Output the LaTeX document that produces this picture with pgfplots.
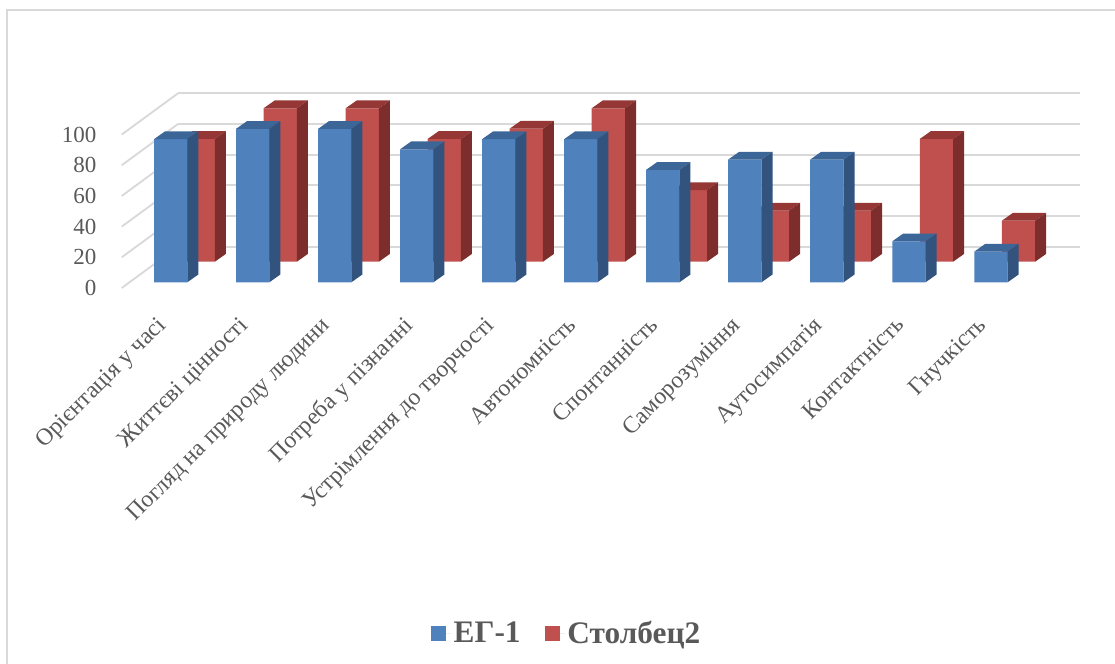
\documentclass[border=0pt]{standalone}
\usepackage{pgfplots}
\usepackage{pgfplotstable}
\pgfplotsset{compat=1.18}
\usepackage{fontspec}
\setmainfont{Liberation Serif}
\definecolor{blueF}{HTML}{4F81BD}
\definecolor{blueS}{HTML}{31537E}
\definecolor{blueT}{HTML}{3D6698}
\definecolor{redF}{HTML}{C0504D}
\definecolor{redS}{HTML}{7D2E2C}
\definecolor{redT}{HTML}{943735}
\definecolor{txt}{HTML}{595959}
\definecolor{gridc}{HTML}{D9D9D9}

\pgfplotstableread{
x blue red
0.5 93.3 80
1.5 100 100
2.5 100 100
3.5 86.7 80
4.5 93.3 86.7
5.5 93.3 100
6.5 73.3 46.7
7.5 80 33.3
8.5 80 33.3
9.5 26.7 80
10.5 20 26.7
}\datatable

\def\hw{12.49pt}\def\ddx{8.25pt}\def\ddy{5.85pt}
\newcommand\declarebox[3]{%
 \pgfdeclareplotmark{#1}{%
  \pgfmathsetlengthmacro\hh{\barval*1.1505pt}%
  \pgfsetfillcolor{#2}%
  \pgfpathmoveto{\pgfpoint{-\hw}{0pt}}%
  \pgfpathlineto{\pgfpoint{\hw}{0pt}}%
  \pgfpathlineto{\pgfpoint{\hw+\ddx}{\ddy}}%
  \pgfpathlineto{\pgfpoint{-\hw+\ddx}{\ddy}}%
  \pgfpathclose\pgfusepath{fill}%
  \pgfsetfillcolor{#3}%
  \pgfpathmoveto{\pgfpoint{\hw}{0pt}}%
  \pgfpathlineto{\pgfpoint{\hw+\ddx}{\ddy}}%
  \pgfpathlineto{\pgfpoint{\hw+\ddx}{\ddy-\hh}}%
  \pgfpathlineto{\pgfpoint{\hw}{-\hh}}%
  \pgfpathclose\pgfusepath{fill}%
 }}
\declarebox{boxblue}{blueT}{blueS}
\declarebox{boxred}{redT}{redS}

\pgfplotsset{rowaxis/.style={scale only axis, width=676.725pt, height=115.05pt,
  xmin=0, xmax=11, ymin=0, ymax=100, clip=false, anchor=south west,
  axis line style={draw=none}, major tick length=0pt}}

\begin{document}
\begin{tikzpicture}
\path[use as bounding box] (0,0) rectangle (836.25pt,498pt);
\draw[gridc, line width=1.2pt] (5.25pt,0pt) -- (5.25pt,490.5pt) -- (836.25pt,490.5pt);
\foreach \k in {0,...,5}{
 \draw[gridc, line width=1.4pt] ({121.7*0.75pt},{(664-288+30.68*\k)*0.75pt}) -- ({178*0.75pt},{(664-246.7+30.68*\k)*0.75pt});
}
% back wall
\begin{axis}[rowaxis, at={(133.5pt,312.975pt)}, width=676.5pt, xtick=\empty,
  ytick={0,20,...,100}, yticklabels={,,,,,}, yticklabel style={opacity=0},
  ymajorgrids, grid style={gridc, line width=1.4pt}]
\addplot[draw=none] coordinates {(0,0)};
\end{axis}
% red row
\begin{axis}[rowaxis, at={(117.9pt,301.725pt)}, xtick=\empty, ytick=\empty]
\addplot[ybar, bar width=24.975pt, bar shift=0pt, fill=redF, draw=none] table[x=x,y=red]{\datatable};
\addplot[scatter, only marks, mark=boxred, visualization depends on={rawy\as\barval},
  scatter/@pre marker code/.code={}, scatter/@post marker code/.code={}] table[x=x,y=red]{\datatable};
\end{axis}
% blue row
\begin{axis}[rowaxis, at={(97.2375pt,286.275pt)}, xtick=\empty, ytick=\empty]
\addplot[ybar, bar width=24.975pt, bar shift=0pt, fill=blueF, draw=none] table[x=x,y=blue]{\datatable};
\addplot[scatter, only marks, mark=boxblue, visualization depends on={rawy\as\barval},
  scatter/@pre marker code/.code={}, scatter/@post marker code/.code={}] table[x=x,y=blue]{\datatable};
\end{axis}
% front plane: labels and legend
\begin{axis}[rowaxis, at={(91.275pt,282pt)},
  xtick={0.5,1.5,2.5,3.5,4.5,5.5,6.5,7.5,8.5,9.5,10.5},
  xticklabels={Орієнтація у часі, Життєві цінності, Погляд на природу людини, Потреба у пізнанні, Устрімлення до творчості, Автономність, Спонтанність, Саморозуміння, Аутосимпатія, Контактність, Гнучкість},
  ytick={0,20,...,100},
  /pgf/number format/assume math mode=true,
  yticklabel style={font=\fontsize{17.25pt}{20pt}\selectfont, text=txt, anchor=east, inner sep=0pt, xshift=-18.75pt},
  xticklabel style={font=\fontsize{17.8pt}{20pt}\selectfont, text=txt, rotate=45, anchor=north east, inner sep=0pt, xshift=-17.9pt, yshift=-10.6pt},
  legend columns=2,
  legend style={at={(0.4935,-2.25)}, anchor=center, draw=none, fill=none,
    font=\bfseries\fontsize{23.5pt}{26pt}\selectfont, text=txt,
    /tikz/every even column/.append style={column sep=16pt}},
  legend image code/.code={\fill[#1] (0pt,-5.6pt) rectangle (11.25pt,5.6pt); \path (0pt,0pt) -- (15pt,0pt);},
]
\addlegendimage{fill=blueF, draw=none}
\addlegendentry{ЕГ-1}
\addlegendimage{fill=redF, draw=none}
\addlegendentry{Столбец2}
\end{axis}
\end{tikzpicture}
\end{document}
